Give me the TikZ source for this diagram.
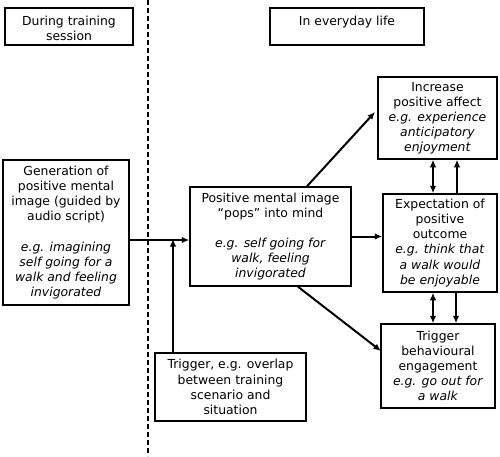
\documentclass[tikz,border=0pt]{standalone}
\usepackage{fontspec}
\setmainfont{DejaVu Sans}
\usetikzlibrary{arrows.meta}
\begin{document}
\begin{tikzpicture}[x=1pt,y=-1pt,
  box/.style={draw,line width=1.5pt,align=center,inner sep=0pt,
    font=\fontsize{12.4}{15.1}\selectfont},
  txt/.style={align=center,inner sep=0pt,font=\fontsize{12.4}{15.1}\selectfont},
  tip/.tip={Latex[length=7.5pt,width=6.5pt]},
  conn/.style={line width=2pt,-tip},
  dconn/.style={line width=2pt,tip-tip}]
\useasboundingbox (0,0) rectangle (500,456);
% dashed divider
\coordinate (dtop) at (148,0);
\coordinate (dbot) at (148,456);
\draw[line width=1.5pt,dash pattern=on 5pt off 3pt] (dtop) -- (dbot);
% header boxes
\node[box,minimum width=128pt,minimum height=37pt] (trainbox) at (69,26.5) {};
\node[txt] (train) at (69,28) {During training\\session};
\node[box,minimum width=154pt,minimum height=37pt] (lifebox) at (347,26.5) {};
\node[txt,anchor=base] (life) at (347,25) {In everyday life};
% main boxes
\node[box,minimum width=126pt,minimum height=145pt] (gen) at (66,232.5)
  {Generation of\\positive mental\\image (guided by\\audio script)\\[15.1pt]
   \textit{e.g. imagining}\\\textit{self going for a}\\\textit{walk and feeling}\\\textit{invigorated}};
\node[box,minimum width=161pt,minimum height=99pt] (pos) at (270.5,236.5)
  {Positive mental image\\“pops” into mind\\[15.1pt]
   \textit{e.g. self going for}\\\textit{walk, feeling}\\\textit{invigorated}};
\node[box,minimum width=151pt,minimum height=68pt] (trig) at (230.5,387)
  {Trigger, e.g. overlap\\between training\\scenario and\\situation};
\node[box,minimum width=119pt,minimum height=82pt] (inc) at (437.5,118)
  {Increase\\positive affect\\\textit{e.g. experience}\\\textit{anticipatory}\\\textit{enjoyment}};
\node[box,minimum width=114pt,minimum height=98pt] (exp) at (440,243)
  {Expectation of\\positive\\outcome\\\textit{e.g. think that}\\\textit{a walk would}\\\textit{be enjoyable}};
\node[box,minimum width=114pt,minimum height=84pt] (beh) at (438,366)
  {Trigger\\behavioural\\engagement\\\textit{e.g. go out for}\\\textit{a walk}};
% connectors
\coordinate (join) at (173,240);
\draw[conn] (gen.east |- join) -- (pos.west |- join);
\draw[conn] (trig.north -| join) -- ([yshift=1pt]join);
\draw[conn] (pos.east) -- (exp.west |- pos.east);
\coordinate (incin) at (375,112);
\coordinate (behin) at (381,351);
\draw[conn] (pos.north -| 307,0) -- (incin);
\draw[conn] (pos.south -| 298,0) -- (behin);
\draw[dconn] (inc.south -| 433,0) -- (exp.north -| 433,0);
\draw[conn] (exp.north -| 457,0) -- (inc.south -| 457,0);
\draw[dconn] (exp.south -| 433,0) -- (beh.north -| 433,0);
\draw[conn] (exp.south -| 456,0) -- (beh.north -| 456,0);
\end{tikzpicture}
\end{document}
